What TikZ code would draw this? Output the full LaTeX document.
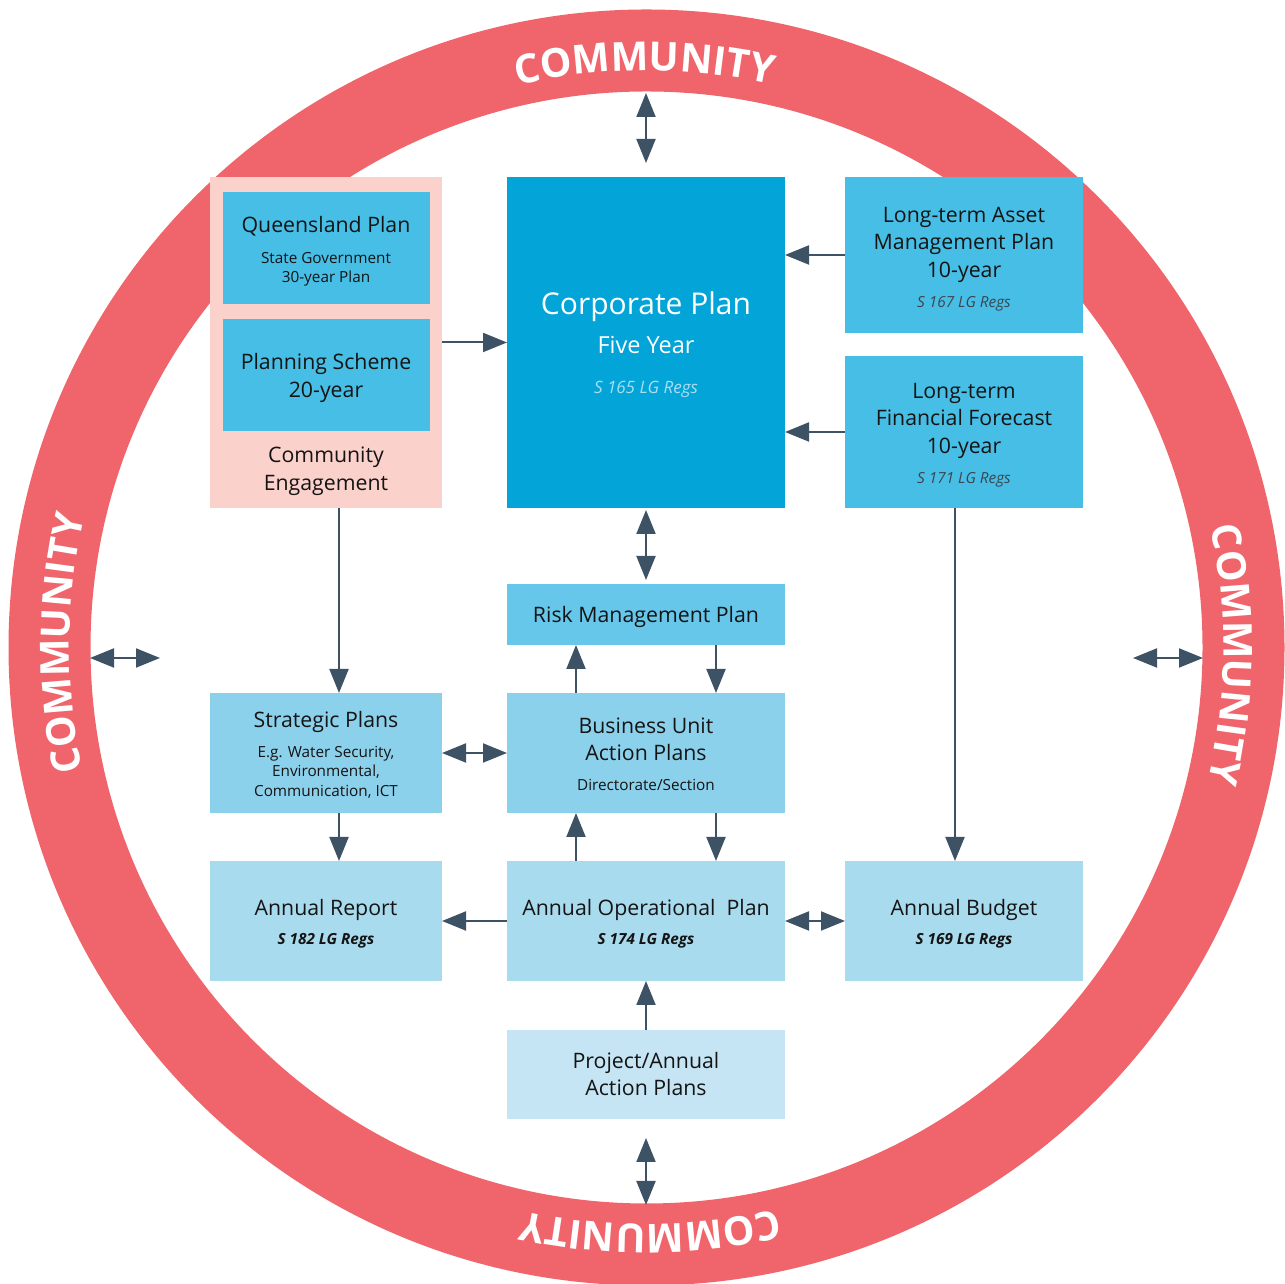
\documentclass[tikz,border=0pt]{standalone}
\usepackage{fontspec}
\setmainfont{Open Sans}
\usetikzlibrary{arrows.meta,fit,decorations.text}
\definecolor{ringc}{RGB}{240,101,107}
\definecolor{pinkc}{RGB}{251,209,204}
\definecolor{corpc}{RGB}{3,164,216}
\definecolor{ctwo}{RGB}{71,190,229}
\definecolor{cthree}{RGB}{102,199,235}
\definecolor{cfour}{RGB}{140,209,236}
\definecolor{cfive}{RGB}{169,219,238}
\definecolor{csix}{RGB}{197,229,244}
\definecolor{arrc}{RGB}{62,82,102}
\definecolor{txtc}{RGB}{20,20,20}
\definecolor{regc}{RGB}{60,70,80}
\definecolor{corpreg}{RGB}{170,222,243}
\newcommand\fm{\fontsize{21.3}{25}\selectfont}
\newcommand\fsm{\fontsize{15.3}{18}\selectfont}
\begin{document}
\begin{tikzpicture}[x=1pt,y=1pt,
  boxst/.style={rectangle, inner sep=0pt, outer sep=0pt, draw=none},
  tx/.style={anchor=mid, inner sep=0pt, outer sep=0pt, text=txtc, font=\fm},
  ts/.style={anchor=mid, inner sep=0pt, outer sep=0pt, text=txtc, font=\fsm},
  arr/.style={draw=arrc, line width=2pt, -{Triangle[length=24pt,width=19pt]}},
  darr/.style={draw=arrc, line width=2pt, {Triangle[length=24pt,width=19pt]}-{Triangle[length=24pt,width=19pt]}},
  ringtext/.style={decorate, decoration={text along path, text align=center, text color=white,
     text={|\fontsize{40}{40}\selectfont\bfseries|COMMUNITY}}}
]
\useasboundingbox (0,0) rectangle (1285,1284);
% ring
\fill[ringc, even odd rule] (646.5,636.5) circle (638) (646.5,636.5) circle (556);
\path[ringtext] ([shift={(646.5,636.5)}]115.2:577) arc[start angle=115.2, end angle=65.2, radius=577];
\path[ringtext] ([shift={(646.5,636.5)}]24.3:577) arc[start angle=24.3, end angle=-25.7, radius=577];
\path[ringtext] ([shift={(646.5,636.5)}]-64.6:577) arc[start angle=-64.6, end angle=-114.6, radius=577];
\path[ringtext] ([shift={(646.5,636.5)}]204.6:577) arc[start angle=204.6, end angle=154.6, radius=577];

\begin{scope}[shift={(0,1284)}, y=-1pt]
% boxes
\node[boxst, fill=pinkc, fit={(210,177) (442,508)}] (eng) {};
\node[boxst, fill=ctwo, fit={(223,192) (430,304)}] (qp) {};
\node[boxst, fill=ctwo, fit={(223,319) (430,431)}] (ps) {};
\node[boxst, fill=corpc, fit={(507,177) (785,508)}] (corp) {};
\node[boxst, fill=ctwo, fit={(845,177) (1083,333)}] (ltam) {};
\node[boxst, fill=ctwo, fit={(845,356) (1083,508)}] (ltff) {};
\node[boxst, fill=cthree, fit={(507,584) (785,645)}] (risk) {};
\node[boxst, fill=cfour, fit={(210,693) (442,813)}] (strat) {};
\node[boxst, fill=cfour, fit={(507,693) (785,813)}] (bu) {};
\node[boxst, fill=cfive, fit={(210,861) (442,981)}] (ar) {};
\node[boxst, fill=cfive, fit={(507,861) (785,981)}] (aop) {};
\node[boxst, fill=cfive, fit={(845,861) (1083,981)}] (ab) {};
\node[boxst, fill=csix, fit={(507,1030) (785,1119)}] (proj) {};

% texts
\node[tx] (qpa) at (326,230) {Queensland Plan};
\node[ts] (qpb) at (326,261) {State Government};
\node[ts] (qpc) at (326,280) {30-year Plan};
\node[tx] (psa) at (326,367) {Planning Scheme};
\node[tx] (psb) at (326,395) {20-year};
\node[tx] (enga) at (326,460) {Community};
\node[tx] (engb) at (326,488) {Engagement};
\node[tx, text=white, font=\fontsize{30}{34}\selectfont] (corpa) at (646,312) {Corporate Plan};
\node[tx, text=white, font=\fontsize{23.5}{27}\selectfont] (corpb) at (646,351) {Five Year};
\node[tx, text=corpreg, font=\fontsize{17}{20}\selectfont\itshape] (corpc) at (646,391) {S 165 LG Regs};
\node[tx] (ltama) at (964,220) {Long-term Asset};
\node[tx] (ltamb) at (964,247) {Management Plan};
\node[tx] (ltamc) at (964,275) {10-year};
\node[ts, text=regc, font=\fsm\itshape] (ltamd) at (964,305) {S 167 LG Regs};
\node[tx] (ltffa) at (964,396) {Long-term};
\node[tx] (ltffb) at (964,423) {Financial Forecast};
\node[tx] (ltffc) at (964,451) {10-year};
\node[ts, text=regc, font=\fsm\itshape] (ltffd) at (964,481) {S 171 LG Regs};
\node[tx] (riska) at (646,620) {Risk Management Plan};
\node[tx] (strata) at (326,725) {Strategic Plans};
\node[ts] (stratb) at (326,755) {E.g. Water Security,};
\node[ts] (stratc) at (326,774) {Environmental,};
\node[ts] (stratd) at (326,794) {Communication, ICT};
\node[tx] (bua) at (646,731) {Business Unit};
\node[tx] (bub) at (646,758) {Action Plans};
\node[ts] (buc) at (646,788) {Directorate/Section};
\node[tx] (ara) at (326,913) {Annual Report};
\node[ts, font=\fsm\bfseries\itshape] (arb) at (326,942) {S 182 LG Regs};
\node[tx] (aopa) at (646,913) {Annual Operational\ \ Plan};
\node[ts, font=\fsm\bfseries\itshape] (aopb) at (646,942) {S 174 LG Regs};
\node[tx] (aba) at (964,913) {Annual Budget};
\node[ts, font=\fsm\bfseries\itshape] (abb) at (964,942) {S 169 LG Regs};
\node[tx] (proja) at (646,1066) {Project/Annual};
\node[tx] (projb) at (646,1093) {Action Plans};

% free ends on the ring
\coordinate (rtop) at (646,93);
\coordinate (rbot) at (646,1205);
\coordinate (rla) at (90,658);
\coordinate (rlb) at (160,658);
\coordinate (rra) at (1133,658);
\coordinate (rrb) at (1203,658);

% connectors
\draw[darr, shorten >=14pt] (rtop) -- (corp.north);
\draw[arr] (eng.east) -- (corp.west);
\draw[arr] (ltam.west) -- (ltam.west -| corp.east);
\draw[arr] (ltff.west) -- (ltff.west -| corp.east);
\draw[darr, shorten <=2pt, shorten >=4pt] (corp.south) -- (risk.north);
\draw[arr] ([xshift=70pt]risk.south) -- ([xshift=70pt]bu.north);
\draw[arr] ([xshift=-70pt]bu.north) -- ([xshift=-70pt]risk.south);
\draw[arr] ([xshift=13pt]eng.south) -- ([xshift=13pt]strat.north);
\draw[darr] (strat.east) -- (bu.west);
\draw[arr] ([xshift=13pt]strat.south) -- ([xshift=13pt]ar.north);
\draw[arr] ([xshift=-70pt]aop.north) -- ([xshift=-70pt]bu.south);
\draw[arr] ([xshift=70pt]bu.south) -- ([xshift=70pt]aop.north);
\draw[arr] (aop.west) -- (ar.east);
\draw[darr] (aop.east) -- (ab.west);
\draw[arr] ([xshift=-9pt]ltff.south) -- ([xshift=-9pt]ab.north);
\draw[arr] (proj.north) -- (aop.south);
\draw[darr, shorten <=19pt] (proj.south) -- (rbot);
\draw[darr] (rla) -- (rlb);
\draw[darr] (rra) -- (rrb);
\end{scope}
\end{tikzpicture}
\end{document}
